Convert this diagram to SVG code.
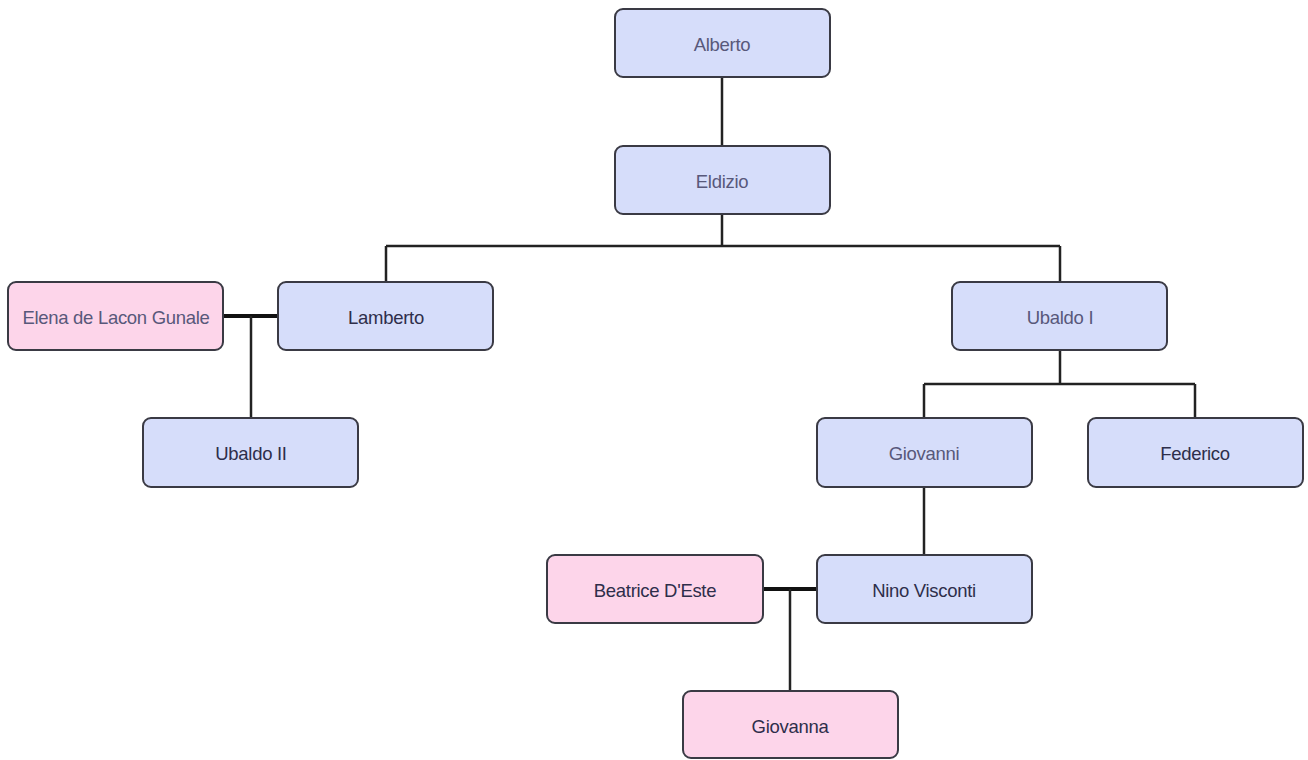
<svg xmlns="http://www.w3.org/2000/svg" width="1308" height="760" viewBox="0 0 1308 760">
<style>
.box{stroke:#3a3a44;stroke-width:2}
.m{fill:#d6ddfa}
.f{fill:#fdd5ea}
text{font-family:"Liberation Sans",Arial,sans-serif;font-size:18.5px;text-anchor:middle;dominant-baseline:central;letter-spacing:-0.3px}
.d{fill:#2e2e4a}
.l{fill:#58587a}
.c{stroke:#222;stroke-width:2.5;fill:none}
.s{stroke:#111;stroke-width:4;fill:none}
</style>
<rect width="1308" height="760" fill="#fff"/>
<g id="connectors">
<path class="c" d="M722 77V146"/>
<path class="c" d="M722 214V246M386 246H1060M386 246V282M1060 246V282"/>
<path class="s" d="M223 316H278"/>
<path class="c" d="M251 316V418"/>
<path class="c" d="M1060 350V384M924 384H1195M924 384V418M1195 384V418"/>
<path class="c" d="M924 487V555"/>
<path class="s" d="M763 589H817"/>
<path class="c" d="M790 589V691"/>
</g>
<g id="alberto"><rect class="box m" x="615" y="9" width="215" height="68" rx="8"/><text class="l" x="722" y="44">Alberto</text></g>
<g id="eldizio"><rect class="box m" x="615" y="146" width="215" height="68" rx="8"/><text class="l" x="722" y="181">Eldizio</text></g>
<g id="elena"><rect class="box f" x="8" y="282" width="215" height="68" rx="8"/><text class="l" x="116" y="317">Elena de Lacon Gunale</text></g>
<g id="lamberto"><rect class="box m" x="278" y="282" width="215" height="68" rx="8"/><text class="d" x="386" y="317">Lamberto</text></g>
<g id="ubaldo1"><rect class="box m" x="952" y="282" width="215" height="68" rx="8"/><text class="l" x="1060" y="317">Ubaldo I</text></g>
<g id="ubaldo2"><rect class="box m" x="143" y="418" width="215" height="69" rx="8"/><text class="d" x="251" y="453">Ubaldo II</text></g>
<g id="giovanni"><rect class="box m" x="817" y="418" width="215" height="69" rx="8"/><text class="l" x="924" y="453">Giovanni</text></g>
<g id="federico"><rect class="box m" x="1088" y="418" width="215" height="69" rx="8"/><text class="d" x="1195" y="453">Federico</text></g>
<g id="beatrice"><rect class="box f" x="547" y="555" width="216" height="68" rx="8"/><text class="d" x="655" y="590">Beatrice D'Este</text></g>
<g id="nino"><rect class="box m" x="817" y="555" width="215" height="68" rx="8"/><text class="d" x="924" y="590">Nino Visconti</text></g>
<g id="giovanna"><rect class="box f" x="683" y="691" width="215" height="67" rx="8"/><text class="d" x="790" y="726">Giovanna</text></g>
</svg>
